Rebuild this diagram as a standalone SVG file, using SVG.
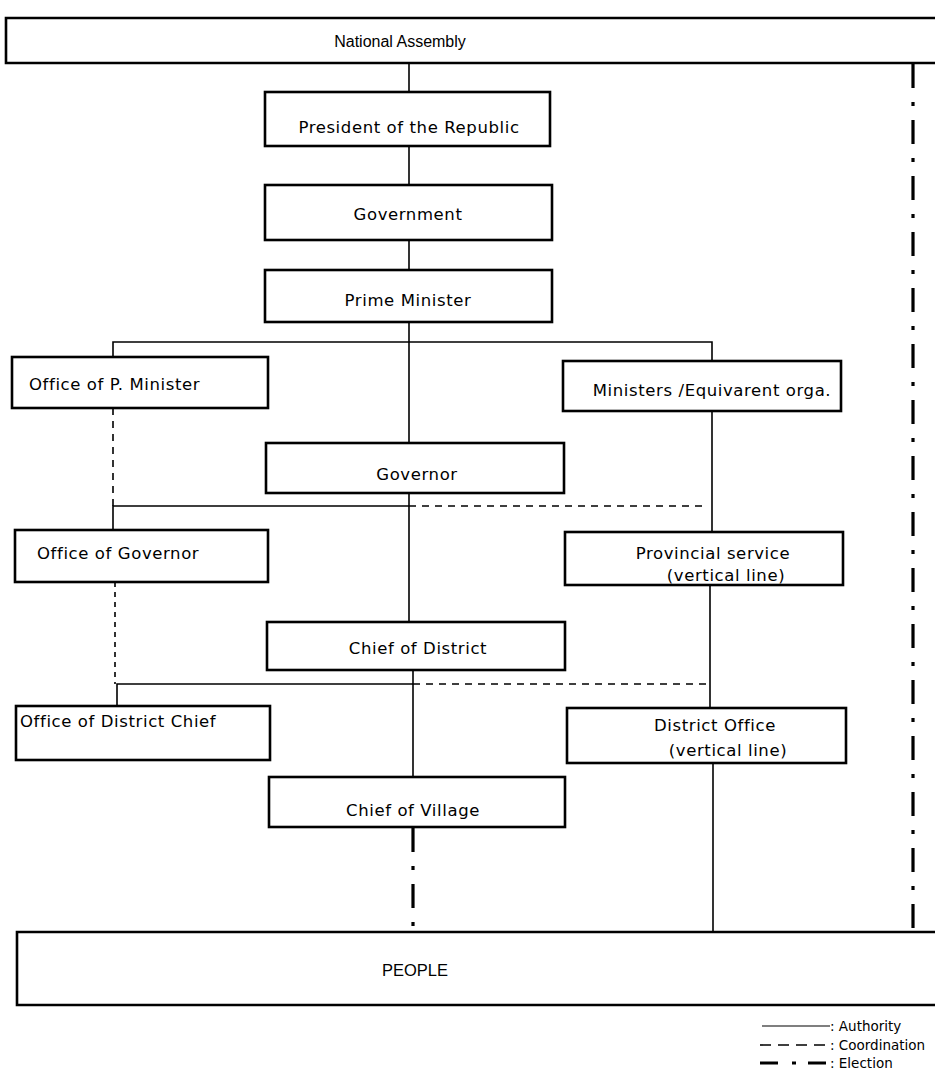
<svg xmlns="http://www.w3.org/2000/svg" width="935" height="1082" viewBox="0 0 935 1082">
  <style>
    .box { fill: #ffffff; stroke: #000000; stroke-width: 2.6; }
    .lbl { font-family: "DejaVu Sans", "Liberation Sans", sans-serif; font-size: 16.5px; letter-spacing: 0.6px; fill: #000000; }
    .thin { font-family: "Liberation Sans", "DejaVu Sans", sans-serif; font-size: 16px; letter-spacing: 0; fill: #000000; }
    .key { font-family: "DejaVu Sans", "Liberation Sans", sans-serif; font-size: 13.5px; fill: #000000; }
    .mid { text-anchor: middle; }
    .auth { fill: none; stroke: #000000; stroke-width: 1.6; }
    .coord { fill: none; stroke: #000000; stroke-width: 1.6; stroke-dasharray: 7 6; }
    .elect { fill: none; stroke: #000000; stroke-width: 3.2; stroke-dasharray: 24 14 4 14; }
  </style>
  <rect width="935" height="1082" fill="#ffffff"/>

  <!-- connectors -->
  <g id="connectors">
    <!-- authority chain down the centre -->
    <line class="auth" x1="409" y1="63" x2="409" y2="92"/>
    <line class="auth" x1="409" y1="146" x2="409" y2="185"/>
    <line class="auth" x1="409" y1="240" x2="409" y2="270"/>
    <line class="auth" x1="409" y1="322" x2="409" y2="443"/>
    <polyline class="auth" points="113,357 113,342 712,342 712,361"/>
    <line class="auth" x1="712" y1="411" x2="712" y2="532"/>
    <line class="auth" x1="409" y1="493" x2="409" y2="622"/>
    <line class="auth" x1="710" y1="585" x2="710" y2="708"/>
    <line class="auth" x1="413" y1="670" x2="413" y2="777"/>
    <line class="auth" x1="713" y1="763" x2="713" y2="932"/>
    <!-- governor level -->
    <polyline class="auth" points="113,530 113,506 409,506"/>
    <line class="coord" x1="409" y1="506" x2="705" y2="506"/>
    <line class="coord" x1="113" y1="408" x2="113" y2="506"/>
    <!-- district level -->
    <polyline class="auth" points="117,706 117,684 413,684"/>
    <line class="coord" x1="413" y1="684" x2="710" y2="684"/>
    <line class="coord" x1="115" y1="582" x2="115" y2="684" style="stroke-dasharray: 5 5"/>
    <!-- elections -->
    <line class="elect" x1="413" y1="828" x2="413" y2="932"/>
    <line class="elect" x1="913" y1="64" x2="913" y2="932"/>
  </g>

  <!-- nodes -->
  <g id="national-assembly">
    <path class="box" d="M 940 18 L 6 18 L 6 63 L 940 63"/>
    <text class="thin mid" x="400" y="47">National Assembly</text>
  </g>
  <g id="president">
    <rect class="box" x="265" y="92" width="285" height="54"/>
    <text class="lbl mid" x="409" y="133">President of the Republic</text>
  </g>
  <g id="government">
    <rect class="box" x="265" y="185" width="287" height="55"/>
    <text class="lbl mid" x="408" y="220">Government</text>
  </g>
  <g id="prime-minister">
    <rect class="box" x="265" y="270" width="287" height="52"/>
    <text class="lbl mid" x="408" y="306">Prime Minister</text>
  </g>
  <g id="office-pm">
    <rect class="box" x="12" y="357" width="256" height="51"/>
    <text class="lbl" x="29" y="390">Office of P. Minister</text>
  </g>
  <g id="ministers">
    <rect class="box" x="563" y="361" width="278" height="50"/>
    <text class="lbl mid" x="712" y="396">Ministers /Equivarent orga.</text>
  </g>
  <g id="governor">
    <rect class="box" x="266" y="443" width="298" height="50"/>
    <text class="lbl mid" x="417" y="480">Governor</text>
  </g>
  <g id="office-governor">
    <rect class="box" x="15" y="530" width="253" height="52"/>
    <text class="lbl" x="37" y="559">Office of Governor</text>
  </g>
  <g id="provincial-service">
    <rect class="box" x="565" y="532" width="278" height="53"/>
    <text class="lbl mid" x="713" y="559">Provincial service</text>
    <text class="lbl mid" x="726" y="581">(vertical line)</text>
  </g>
  <g id="chief-district">
    <rect class="box" x="267" y="622" width="298" height="48"/>
    <text class="lbl mid" x="418" y="654">Chief of District</text>
  </g>
  <g id="office-district-chief">
    <rect class="box" x="16" y="706" width="254" height="54"/>
    <text class="lbl" x="20" y="727">Office of District Chief</text>
  </g>
  <g id="district-office">
    <rect class="box" x="567" y="708" width="279" height="55"/>
    <text class="lbl mid" x="715" y="731">District Office</text>
    <text class="lbl mid" x="728" y="756">(vertical line)</text>
  </g>
  <g id="chief-village">
    <rect class="box" x="269" y="777" width="296" height="50"/>
    <text class="lbl mid" x="413" y="816">Chief of Village</text>
  </g>
  <g id="people">
    <path class="box" d="M 940 932 L 17 932 L 17 1005 L 940 1005"/>
    <text class="thin" x="382" y="976" style="font-size:16.5px">PEOPLE</text>
  </g>

  <!-- key -->
  <g id="legend">
    <line class="auth" x1="762" y1="1026" x2="830" y2="1026" style="stroke-width:1.2"/>
    <text class="key" x="830" y="1031">: Authority</text>
    <line class="coord" x1="760" y1="1045" x2="830" y2="1045" style="stroke-dasharray: 11 7"/>
    <text class="key" x="830" y="1050">: Coordination</text>
    <line x1="760" y1="1063" x2="778" y2="1063" stroke="#000" stroke-width="3"/>
    <line x1="792" y1="1063" x2="796" y2="1063" stroke="#000" stroke-width="3"/>
    <line x1="808" y1="1063" x2="826" y2="1063" stroke="#000" stroke-width="3"/>
    <text class="key" x="830" y="1068">: Election</text>
  </g>
</svg>
